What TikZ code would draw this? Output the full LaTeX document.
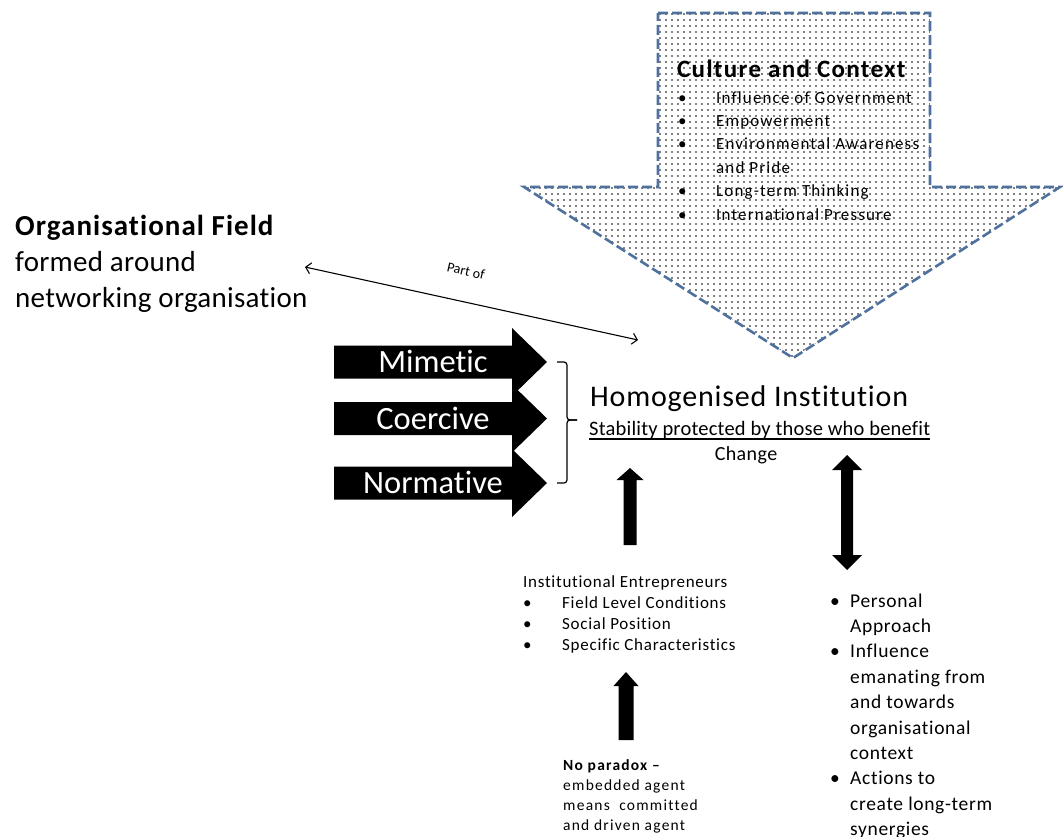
\documentclass[tikz,border=0pt]{standalone}
\usepackage{fontspec}
\setmainfont{Carlito}[Ligatures=NoCommon]
\usetikzlibrary{arrows.meta,patterns.meta}
\definecolor{dashblue}{RGB}{79,113,158}
\newcommand{\sized}[3]{\fontsize{#1}{#2}\selectfont\addfontfeature{LetterSpace=#3}}

\begin{document}
\begin{tikzpicture}[x=1pt,y=-1pt,
  txt/.style={inner sep=0pt,anchor=base west},
  forcelabel/.style={text=white,inner sep=0pt,anchor=base,font=\fontsize{32.5}{32.5}\selectfont},
  bigarrow/.style={draw=dashblue,line width=2.6pt,dash pattern=on 10pt off 4pt,line join=miter,
    pattern={Dots[distance=6pt,radius=0.95pt]},pattern color=black},
  partlink/.style={line width=1.1pt,{Straight Barb[length=5pt,width=11pt]}-{Straight Barb[length=5pt,width=11pt]}}]

% page
\fill[white] (0,0) rectangle (1063,836);
\useasboundingbox (0,0) rectangle (1063,836);

% culture and context: dotted block arrow pointing down
\path[bigarrow] (658,13) -- (930,13) -- (930,187) -- (1060,187) -- (793,358)
  -- (524,187) -- (658,187) -- cycle;
\node[txt,font=\bfseries\sized{25}{25}{5.3}] (cc) at (677,77) {Culture and Context};
\node[txt,font=\sized{17}{23.4}{6.7}] (cclist) at (678,103) {%
  \begin{tabular}[t]{@{}p{38pt}@{}l@{}}
  \textbullet & Influence of Government\\
  \textbullet & Empowerment\\
  \textbullet & Environmental Awareness\\
              & and Pride\\
  \textbullet & Long-term Thinking\\
  \textbullet & International Pressure
  \end{tabular}};

% organisational field
\node[txt,font=\bfseries\sized{29}{29}{3.6}] (of) at (15,235) {Organisational Field};
\node[txt,font=\sized{29}{36}{1}] (ofsub) at (15,271) {%
  \begin{tabular}[t]{@{}l@{}}formed around\\networking organisation\end{tabular}};

% part-of link
\coordinate (pofA) at (305,267);
\coordinate (pofB) at (638,340);
\draw[partlink] (pofA) -- (pofB);
\node[rotate=-13,inner sep=0pt,font=\fontsize{14}{14}\selectfont] (partof) at (466,271) {Part of};

% isomorphic pressures
\foreach \c/\t/\n in {362/Mimetic/mim,418.5/Coercive/coe,483/Normative/nor}{
  \fill (334,{\c-16.5}) -- (512,{\c-16.5}) -- (512,{\c-34}) -- (547,\c)
    -- (512,{\c+34}) -- (512,{\c+16.5}) -- (334,{\c+16.5}) -- cycle;
  \node[forcelabel] (\n) at (433,{\c+10.5}) {\t};
}

% brace
\draw[line width=1.2pt,rounded corners=3pt] (557,362) -- (567,362) -- (567,420) -- (577,420);
\draw[line width=1.2pt,rounded corners=3pt] (557,483) -- (567,483) -- (567,420) -- (577,420);

% homogenised institution
\node[txt,font=\sized{30}{30}{2.7}] (hom) at (590,406) {Homogenised Institution};
\node[txt,font=\sized{20.5}{20.5}{1}] (stab) at (589,435) {Stability protected by those who benefit};
\draw[line width=1.1pt] ([yshift=-4pt]stab.base west) -- ([yshift=-4pt]stab.base east);
\node[inner sep=0pt,anchor=base,font=\sized{20}{20}{2}] (chg) at (746,460) {Change};

% change arrows
\fill (623.5,545) -- (623.5,480) -- (616.5,480) -- (630,468) -- (643.5,480)
  -- (636.5,480) -- (636.5,545) -- cycle;
\fill (847,455) -- (862,470) -- (853,470) -- (853,555) -- (862,555) -- (847,570)
  -- (832,555) -- (841,555) -- (841,470) -- (832,470) -- cycle;
\fill (618.5,740) -- (618.5,686) -- (613.5,686) -- (626,672) -- (638.5,686)
  -- (633.5,686) -- (633.5,740) -- cycle;

% institutional entrepreneurs
\node[txt,font=\sized{17}{21.3}{4.3}] (ie) at (523,587) {%
  \begin{tabular}[t]{@{}p{39pt}@{}l@{}}
  \multicolumn{2}{@{}l@{}}{Institutional Entrepreneurs}\\
  \textbullet & Field Level Conditions\\
  \textbullet & Social Position\\
  \textbullet & Specific Characteristics
  \end{tabular}};

\node[txt,font=\sized{15.5}{20}{7.9}] (np) at (563,770) {%
  \begin{tabular}[t]{@{}l@{}}
  \textbf{No paradox –}\\
  embedded agent\\
  means\ \ committed\\
  and driven agent
  \end{tabular}};

% personal approach
\node[txt,font=\sized{19.5}{25.4}{3.4}] (pa) at (830,607) {%
  \begin{tabular}[t]{@{}p{20pt}@{}l@{}}
  \textbullet & Personal\\
              & Approach\\
  \textbullet & Influence\\
              & emanating from\\
              & and towards\\
              & organisational\\
              & context\\
  \textbullet & Actions to\\
              & create long-term\\
              & synergies
  \end{tabular}};
\end{tikzpicture}
\end{document}
